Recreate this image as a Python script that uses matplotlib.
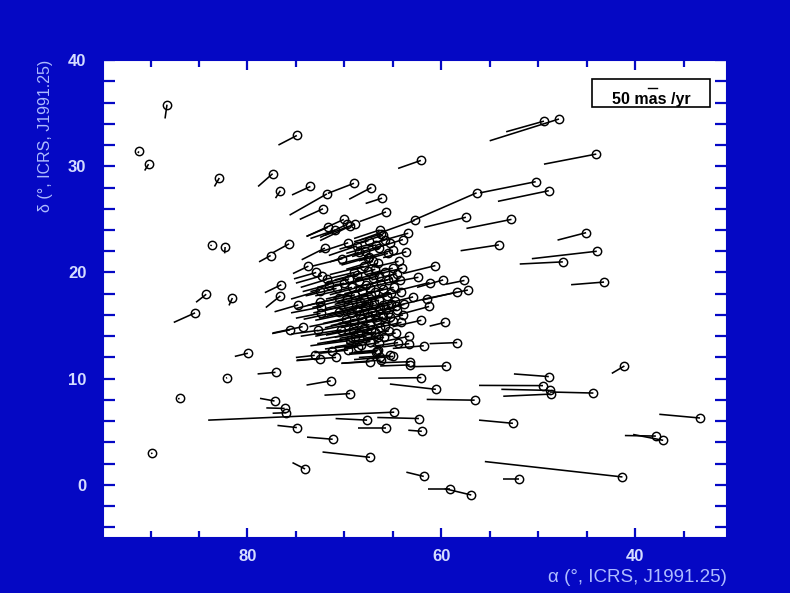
import numpy as np
import matplotlib
matplotlib.use("Agg")
import matplotlib.pyplot as plt
from matplotlib.collections import LineCollection
from matplotlib.patches import Rectangle
from matplotlib.ticker import MultipleLocator

# star positions (circle) and the far end of each proper-motion line, degrees
# field stars around the cluster
ra_field = [88.3, 91.2, 90.2, 82.9, 74.9, 77.4, 76.6, 73.5, 69.0, 71.8,
            67.2, 66.1, 72.2, 65.7, 70.05, 71.7, 70.95, 69.7, 68.9, 69.45,
            83.7, 82.3, 75.7, 77.6, 72.0, 73.7, 76.5, 76.6, 84.25, 85.4,
            81.55, 79.95, 82.1, 77.1, 87.0, 89.8, 77.2, 76.15, 76.0, 64.85,
            74.9, 71.2, 67.35, 74.05, 71.4, 69.4, 67.65, 65.75, 62.3, 62.0,
            62.05, 60.55, 56.55, 59.5, 58.35, 61.8, 52.6, 61.8, 59.1, 56.9,
            52.0, 41.3, 48.9, 49.5, 48.8, 48.7, 44.3, 41.1, 33.3, 37.85,
            37.1, 47.85, 49.4, 44.0, 50.25, 56.35, 48.9, 57.45, 52.75, 62.1,
            45.05, 43.95, 47.45, 54.05, 60.6, 43.2, 59.65, 62.75, 63.4, 66.0,
            63.95, 66.35, 57.6, 57.25, 58.4, 59.8, 61.2, 61.25, 62.35, 64.4,
            63.6, 61.5, 63.3, 63.3, 63.25, 72.55, 70.85, 71.3, 66.6, 67.4,
            66.25, 65.25, 75.6, 74.3, 72.7, 74.75, 72.5, 72.4, 72.45, 72.5,
            72.9, 72.3, 71.8, 71.6, 63.25, 68.6, 69.6, 73.05]
dec_field = [35.8, 31.4, 30.2, 28.9, 32.9, 29.3, 27.7, 28.1, 28.4, 27.4,
             28.0, 27.0, 26.0, 25.7, 25.0, 24.25, 24.0, 24.55, 24.55, 24.35,
             22.6, 22.4, 22.7, 21.6, 22.3, 20.6, 18.85, 17.8, 17.95, 16.2,
             17.6, 12.4, 10.1, 10.6, 8.15, 3.0, 7.9, 7.2, 6.8, 6.85,
             5.4, 4.3, 2.6, 1.5, 9.8, 8.6, 6.1, 5.4, 6.25, 5.05,
             10.1, 9.0, 7.98, 11.2, 13.4, 13.1, 5.8, 0.8, -0.35, -0.95,
             0.55, 0.75, 10.2, 9.35, 8.9, 8.55, 8.65, 11.2, 6.3, 4.6,
             4.2, 34.45, 34.25, 31.15, 28.55, 27.5, 27.7, 25.2, 25.0, 30.55,
             23.75, 22.0, 21.0, 22.6, 20.65, 19.1, 15.3, 24.9, 23.7, 23.5,
             23.1, 24.0, 19.25, 18.35, 18.15, 19.3, 19.05, 16.8, 19.55, 21.05,
             21.95, 17.55, 14.0, 13.3, 11.6, 11.9, 12.0, 12.6, 12.6, 11.6,
             11.75, 12.2, 14.6, 14.9, 14.55, 16.95, 17.2, 16.75, 16.15, 18.3,
             20.0, 19.7, 19.35, 18.85, 11.3, 13.0, 12.7, 12.2]
ra_field_end = [88.5, 91.3, 90.6, 83.4, 76.8, 78.9, 77.1, 75.4, 71.7, 75.65,
                69.5, 67.8, 74.6, 68.4, 73.9, 73.9, 73.5, 72.5, 72.0, 72.5,
                83.8, 82.35, 77.4, 78.8, 74.4, 75.3, 78.2, 78.1, 85.3, 87.6,
                81.9, 81.3, 82.2, 78.95, 87.15, 89.95, 78.7, 78.05, 77.4, 84.05,
                76.9, 73.85, 72.25, 75.35, 73.9, 72.05, 70.9, 68.6, 66.6, 63.4,
                66.5, 65.3, 61.5, 63.25, 61.2, 65.0, 56.1, 63.6, 61.4, 59.65,
                53.6, 55.5, 52.5, 56.1, 53.8, 53.6, 48.8, 42.4, 37.5, 41.05,
                40.2, 55.0, 53.3, 49.4, 56.0, 62.9, 54.15, 61.75, 57.4, 64.45,
                48.0, 50.65, 51.9, 58.0, 63.95, 46.6, 61.2, 68.4, 66.5, 68.5,
                66.8, 69.0, 59.5, 61.5, 62.0, 62.5, 64.5, 64.5, 65.0, 67.0,
                66.0, 64.5, 66.0, 66.0, 66.4, 74.95, 74.9, 73.1, 69.5, 70.3,
                70.3, 68.5, 77.45, 77.4, 75.5, 77.2, 75.0, 75.5, 75.0, 75.5,
                75.2, 75.0, 74.5, 74.3, 66.3, 71.0, 72.5, 75.0]
dec_field_end = [34.5, 31.25, 29.6, 28.1, 32.0, 28.1, 27.0, 27.3, 27.45, 25.4,
                 26.9, 26.5, 25.0, 24.8, 23.4, 23.4, 23.2, 23.3, 23.5, 23.0,
                 22.5, 21.8, 21.85, 21.0, 21.2, 19.9, 18.1, 16.7, 17.2, 15.3,
                 16.9, 12.1, 10.05, 10.45, 8.1, 2.95, 8.15, 7.25, 6.75, 6.1,
                 5.6, 4.5, 3.1, 2.1, 9.4, 8.45, 6.25, 5.4, 6.35, 5.15,
                 10.05, 9.5, 8.05, 11.13, 13.3, 12.85, 6.1, 1.2, -0.35, -0.35,
                 0.55, 2.2, 10.45, 9.37, 9.0, 8.35, 8.75, 10.5, 6.65, 4.65,
                 4.75, 32.4, 33.25, 30.2, 27.5, 24.9, 26.7, 24.25, 24.15, 29.8,
                 23.05, 21.3, 20.8, 22.05, 19.9, 18.85, 14.95, 23.05, 22.9, 22.8,
                 22.3, 23.2, 18.9, 17.55, 17.4, 18.6, 18.3, 16.0, 19.1, 20.5,
                 21.4, 16.9, 13.5, 13.0, 11.5, 11.7, 11.75, 12.45, 12.4, 11.45,
                 11.45, 12.0, 14.25, 14.3, 14.2, 16.3, 16.6, 16.2, 15.7, 17.5,
                 19.4, 19.0, 18.6, 18.2, 11.2, 12.6, 12.4, 12.0]

# dense cluster core
ra_core = [70.0, 69.2, 68.5, 67.8, 67.0, 66.2, 65.5, 68.9, 68.0, 67.2,
           66.4, 65.6, 64.8, 69.6, 68.7, 67.9, 67.1, 66.3, 65.5, 64.6,
           69.8, 69.0, 68.2, 67.4, 66.6, 65.8, 65.0, 68.6, 67.7, 66.8,
           65.9, 69.4, 68.3, 70.3, 70.5, 66.8, 68.0, 69.0, 65.8, 67.5,
           68.5, 66.7, 67.5, 65.5, 64.0, 64.2, 63.8, 64.1, 64.7, 69.6,
           70.2, 66.2, 65.85, 65.3, 65.0, 66.4, 67.55, 67.05, 66.55, 65.0,
           64.6, 65.0, 62.9, 62.05, 63.95, 64.65, 65.65, 64.45, 66.7, 66.5,
           66.5, 66.35, 64.95,
           69.5, 68.2, 67.4, 66.8, 66.0, 65.2, 68.4, 67.6, 66.9, 66.0,
           65.2, 69.3, 68.4, 67.5, 66.8, 66.0, 65.3, 69.1, 68.0, 67.2,
           66.3, 65.4, 68.9, 67.3, 66.4, 70.6, 70.8, 69.7, 64.9, 64.3,
           68.7, 67.6, 66.4, 68.7, 67.9]
dec_core = [19.0, 18.6, 19.2, 18.8, 19.5, 18.9, 19.3, 17.9, 17.5, 17.9,
            17.4, 17.8, 17.3, 16.9, 16.5, 16.8, 16.3, 16.7, 16.2, 16.5,
            15.6, 15.2, 15.6, 15.1, 15.5, 15.0, 15.4, 14.3, 14.0, 14.4,
            13.9, 13.6, 13.2, 14.6, 17.6, 20.3, 20.6, 20.0, 20.0, 21.5,
            21.9, 22.6, 23.0, 21.8, 20.4, 18.2, 17.0, 15.3, 14.3, 22.8,
            21.3, 23.6, 23.05, 22.75, 22.1, 22.3, 21.4, 21.05, 20.85, 20.4,
            19.9, 19.45, 17.7, 15.5, 16.0, 16.8, 16.6, 13.4, 12.5, 13.9,
            12.7, 12.0, 12.1,
            19.4, 18.3, 18.5, 18.2, 18.4, 18.1, 17.2, 17.0, 17.1, 16.9,
            17.0, 16.2, 16.0, 15.8, 16.0, 15.8, 15.8, 14.7, 14.8, 14.6,
            14.9, 14.5, 13.9, 13.5, 13.4, 16.3, 18.5, 17.5, 18.6, 19.3,
            19.8, 20.1, 19.7, 22.5, 22.0]
ra_core_end = [73.5, 73.0, 72.0, 71.5, 70.5, 70.0, 69.0, 72.8, 72.0, 71.0,
               70.5, 69.2, 68.5, 73.2, 72.6, 71.8, 71.0, 70.0, 69.5, 68.0,
               73.6, 72.8, 72.0, 71.2, 70.4, 69.5, 68.5, 72.5, 71.8, 70.5,
               69.8, 73.5, 72.0, 74.5, 73.8, 70.0, 71.5, 72.2, 68.8, 70.5,
               71.5, 69.8, 70.5, 68.5, 66.8, 67.5, 67.0, 67.2, 68.0, 72.6,
               73.3, 69.0, 68.8, 68.0, 67.8, 69.2, 70.3, 69.8, 69.3, 67.8,
               67.2, 67.8, 66.0, 65.0, 67.0, 67.8, 68.8, 67.4, 69.5, 69.5,
               69.0, 69.0, 67.5,
               72.8, 71.9, 71.2, 70.6, 69.6, 68.8, 72.3, 71.5, 70.8, 69.8,
               68.9, 73.0, 72.2, 71.4, 70.6, 69.9, 69.0, 73.0, 71.9, 71.0,
               70.0, 69.0, 72.8, 71.0, 70.0, 74.2, 74.0, 73.3, 68.3, 67.5,
               72.0, 71.0, 69.8, 71.6, 70.8]
dec_core_end = [18.2, 17.8, 18.5, 17.9, 18.8, 18.0, 18.6, 17.1, 16.6, 17.0,
                16.5, 17.0, 16.6, 16.2, 15.7, 16.0, 15.4, 15.9, 15.4, 15.8,
                14.9, 14.5, 14.8, 14.3, 14.8, 14.3, 14.7, 13.7, 13.4, 13.8,
                13.3, 13.1, 12.8, 14.0, 16.9, 19.5, 19.8, 19.3, 19.4, 20.8,
                21.0, 21.8, 22.2, 21.1, 19.8, 17.5, 16.3, 14.7, 13.8, 21.9,
                20.6, 22.9, 22.3, 22.0, 21.4, 21.5, 20.7, 20.3, 20.2, 19.8,
                19.3, 18.8, 17.0, 14.9, 15.3, 16.1, 15.9, 13.0, 12.3, 13.5,
                12.5, 11.8, 11.9,
                18.6, 17.5, 17.6, 17.3, 17.5, 17.3, 16.4, 16.1, 16.2, 16.1,
                16.2, 15.5, 15.2, 15.0, 15.2, 15.0, 15.1, 14.0, 14.1, 13.9,
                14.2, 13.9, 13.3, 13.0, 12.9, 15.6, 17.8, 16.7, 17.9, 18.6,
                19.0, 19.3, 19.0, 21.6, 21.2]

BG = "#0508c4"
TICK_TXT = "#d4dcff"
LABEL_TXT = "#aebcff"

plt.rcParams["font.family"] = ["Liberation Sans", "DejaVu Sans"]

fig = plt.figure(figsize=(7.9, 5.93), dpi=100, facecolor=BG)
ax = fig.add_axes([0.1304, 0.0927, 0.790, 0.806])
ax.set_facecolor("white")

ra = np.array(ra_field + ra_core)
dec = np.array(dec_field + dec_core)
ra_end = np.array(ra_field_end + ra_core_end)
dec_end = np.array(dec_field_end + dec_core_end)

segs = np.stack([np.column_stack([ra, dec]), np.column_stack([ra_end, dec_end])], axis=1)
ax.add_collection(LineCollection(segs, colors="black", linewidths=1.15, zorder=2))
ax.plot(ra, dec, "o", ms=6, mfc="none", mec="black", mew=1.05, zorder=3)

ax.set_xlim(94.9, 30.5)
ax.set_ylim(-5, 40)

ax.xaxis.set_major_locator(MultipleLocator(20))
ax.xaxis.set_minor_locator(MultipleLocator(5))
ax.yaxis.set_major_locator(MultipleLocator(10))
ax.yaxis.set_minor_locator(MultipleLocator(2))
ax.tick_params(axis="x", which="major", direction="in", length=7.5, width=1.6,
               color=BG, top=True, bottom=True, pad=8,
               labelsize=12, labelcolor=TICK_TXT)
ax.tick_params(axis="x", which="minor", direction="in", length=5, width=1.6,
               color=BG, top=True, bottom=True)
ax.tick_params(axis="y", which="both", direction="in", length=8.5, width=1.6,
               color=BG, left=True, right=True, pad=12,
               labelsize=12, labelcolor=TICK_TXT)
for lab in ax.get_xticklabels() + ax.get_yticklabels():
    lab.set_fontweight("bold")
for sp in ax.spines.values():
    sp.set_color(BG)
    sp.set_linewidth(1.5)

fig.text(0.058, 0.9, "δ (°, ICRS, J1991.25)", rotation=90, ha="center", va="top",
         fontsize=11.5, color=LABEL_TXT)
fig.text(0.920, 0.026, "α (°, ICRS, J1991.25)", ha="right", va="center",
         fontsize=13.5, color=LABEL_TXT)

# scale box for the vectors
ax.add_patch(Rectangle((0.783, 0.901), 0.19, 0.059, transform=ax.transAxes,
                       facecolor="white", edgecolor="black", linewidth=1.2, zorder=4))
ax.plot([0.873, 0.888], [0.941, 0.941], color="black", lw=1.0,
        transform=ax.transAxes, zorder=5)
ax.text(0.879, 0.918, "50 mas /yr", transform=ax.transAxes, ha="center", va="center",
        fontsize=11.5, fontweight="bold", color="black", zorder=5)

fig.savefig("out.png", dpi=100, facecolor=BG)
